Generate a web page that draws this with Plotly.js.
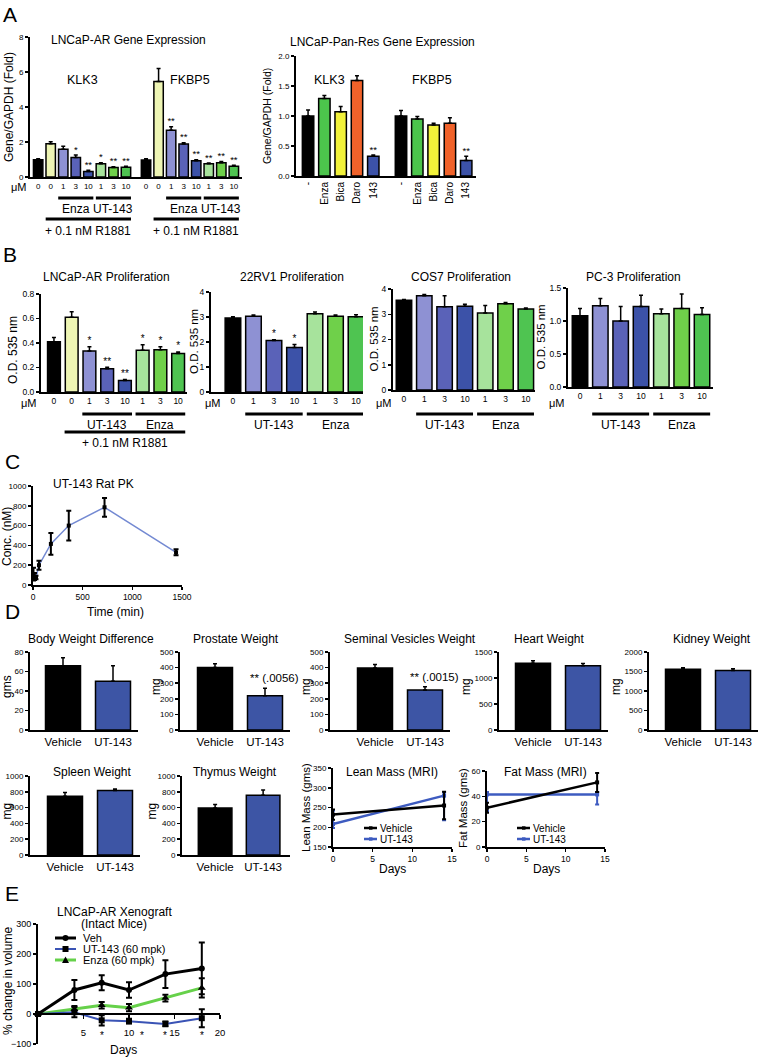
<!DOCTYPE html>
<html><head><meta charset="utf-8">
<script src="https://cdn.plot.ly/plotly-3.0.1.min.js"></script>
<style>html,body{margin:0;padding:0;background:#fff;}#chart{width:768px;height:1058px;}</style>
</head><body><div id="chart"></div>
<script>
// ================= DATA =================
// Panel A (left): LNCaP-AR gene expression
const aDoseLabels = ['0','0','1','3','10','1','3','10'];
const aKLK3      = [0.98, 1.9, 1.58, 1.12, 0.32, 0.75, 0.54, 0.55];
const aKLK3Err   = [0.06, 0.12, 0.18, 0.13, 0.06, 0.06, 0.04, 0.06];
const aKLK3Sig   = ['','','','*','**','*','**','**'];
const aFKBP5     = [0.97, 5.45, 2.67, 1.88, 0.93, 0.75, 0.82, 0.62];
const aFKBP5Err  = [0.07, 0.75, 0.2, 0.07, 0.05, 0.05, 0.06, 0.05];
const aFKBP5Sig  = ['','','**','**','**','**','**','**'];
const aColors    = ['#000000','#eef5b4','#8e91d3','#5a62b8','#3c52a8','#a7e39c','#6fd04a','#4fc451'];
const aGroupNames  = ['Enza','UT-143'];
const aGroupRanges = [[2,4],[5,7]];
const aAllRange    = [1,7];
const aGeneNames   = ['KLK3','FKBP5'];

// Panel A (right): LNCaP-Pan-Res gene expression
const a2Labels    = ['-','Enza','Bica','Daro','143'];
const a2KLK3      = [1.0, 1.29, 1.07, 1.59, 0.33];
const a2KLK3Err   = [0.1, 0.05, 0.09, 0.08, 0.02];
const a2KLK3Sig   = ['','','','','**'];
const a2FKBP5     = [1.0, 0.95, 0.85, 0.88, 0.26];
const a2FKBP5Err  = [0.09, 0.04, 0.03, 0.09, 0.07];
const a2FKBP5Sig  = ['','','','','**'];
const a2Colors    = ['#000000','#4cc54c','#f2f23a','#f0622a','#3c52a8'];

// Panel B: proliferation
const b1Doses  = ['0','0','1','3','10','1','3','10'];
const b1Vals   = [0.41, 0.61, 0.335, 0.19, 0.093, 0.34, 0.345, 0.315];
const b1Err    = [0.035, 0.045, 0.035, 0.012, 0.01, 0.045, 0.025, 0.012];
const b1Sig    = ['','','*','**','**','*','*','*'];
const b1Colors = ['#000000','#eef5b4','#8e91d3','#5a62b8','#3c52a8','#a7e39c','#6fd04a','#4fc451'];
const b1Groups = ['UT-143','Enza'];
const bDoses   = ['0','1','3','10','1','3','10'];
const bColors  = ['#000000','#8e91d3','#5a62b8','#3c52a8','#a7e39c','#6fd04a','#4fc451'];
const bGroups  = ['UT-143','Enza'];
const b2Vals   = [2.96, 3.03, 2.06, 1.78, 3.13, 3.03, 3.01];
const b2Err    = [0.05, 0.05, 0.03, 0.12, 0.07, 0.05, 0.08];
const b2Sig    = ['','','*','*','','',''];
const b3Vals   = [3.55, 3.73, 3.3, 3.32, 3.05, 3.42, 3.21];
const b3Err    = [0.03, 0.05, 0.43, 0.08, 0.3, 0.05, 0.04];
const b4Vals   = [1.08, 1.23, 1.0, 1.22, 1.11, 1.19, 1.1];
const b4Err    = [0.11, 0.11, 0.22, 0.17, 0.07, 0.22, 0.1];

// Panel C: rat PK
const pkTime = [5, 15, 30, 60, 180, 360, 720, 1440];
const pkConc = [110, 85, 75, 200, 415, 600, 785, 330];
const pkErr  = [65, 35, 18, 45, 110, 150, 95, 30];

// Panel D: organ weights
const dCats   = ['Vehicle','UT-143'];
const dColors = ['#000000','#3d55a5'];
const bodyWt  = [66, 50],     bodyWtErr  = [8, 16];
const prostate= [400, 220],   prostateErr= [25, 48];
const seminal = [398, 257],   seminalErr = [22, 20];
const heart   = [1285, 1235], heartErr   = [45, 45];
const kidney  = [1555, 1525], kidneyErr  = [40, 45];
const spleen  = [745, 815],   spleenErr  = [46, 20];
const thymus  = [595, 755],   thymusErr  = [45, 67];
const mriDays = [0, 14];
const leanVeh = [232, 255],   leanVehUp = [13, 35], leanVehDown = [13, 35];
const leanUT  = [208, 280],   leanUTUp  = [34, 8],  leanUTDown  = [10, 62];
const fatVeh  = [31, 51],     fatVehUp  = [4, 7.5], fatVehDown  = [4, 7.5];
const fatUT   = [41.5, 41.5], fatUTUp   = [2, 2],   fatUTDown   = [13, 8];

// Panel E: xenograft
const xenoDays = [0, 4, 7, 10, 14, 18];
const xenoVeh  = [0, 80, 104, 80, 133, 152];
const xenoVehErr = [0, 33, 25, 26, 46, 86];
const xenoUT   = [0, 6, -21, -24, -33, -14];
const xenoUTErr  = [0, 17, 17, 8, 8, 30];
const xenoEnza = [0, 16, 29, 21, 53, 87];
const xenoEnzaErr= [0, 11, 11, 12, 11, 32];
const xenoSigDays = [7, 10, 14, 18];

// ================= BUILD =================
const W = 768, H = 1058;
const FONT = '"Liberation Sans", Arial, Helvetica, sans-serif';
const traces = [], shapes = [], annotations = [];
const layout = {width:W, height:H, margin:{l:0,r:0,t:0,b:0}, paper_bgcolor:'#ffffff',
  plot_bgcolor:'rgba(0,0,0,0)', showlegend:false, font:{family:FONT,color:'#000',size:10}};
let n = 0;
function axes(xPx, yPx, xr, yr, xc, yc){
  n++;
  const s = n===1 ? '' : String(n);
  const common = {showline:true, linecolor:'#000', linewidth:2, showgrid:false, zeroline:false,
    fixedrange:true, tickcolor:'#000', tickwidth:1.5, tickfont:{family:FONT,size:8.5,color:'#000'}};
  layout['xaxis'+s] = Object.assign({}, common, {domain:[xPx[0]/W, xPx[1]/W], anchor:'y'+s, range:xr, ticks:''}, xc||{});
  layout['yaxis'+s] = Object.assign({}, common, {domain:[1-yPx[1]/H, 1-yPx[0]/H], anchor:'x'+s, range:yr, ticks:'outside', ticklen:3}, yc||{});
  return {x:'x'+s, y:'y'+s, yPx, yr};
}
function txt(text, x, y, size, o){
  annotations.push(Object.assign({text, x:x/W, y:1-y/H, xref:'paper', yref:'paper', showarrow:false,
    font:{family:FONT,size,color:'#000'}, xanchor:'center', yanchor:'middle'}, o||{}));
}
function ytitle(text, x, y, size){ txt(text, x, y, size, {textangle:-90}); }
function idx(arr, off){ return arr.map((_, i) => i + (off||0)); }
function bars(ax, pos, vals, errs, colors, width, sig, sigSize){
  traces.push({type:'bar', x:pos, y:vals, width:width, xaxis:ax.x, yaxis:ax.y,
    marker:{color:colors, line:{color:'#000', width:1.5}},
    error_y:{type:'data', symmetric:false, array:errs, arrayminus:errs.map(()=>0), color:'#000', thickness:1.5, width:2},
    hoverinfo:'skip'});
  if(sig){
    traces.push({type:'scatter', mode:'text', x:pos, y:vals.map((v,i)=>v+errs[i]), text:sig,
      textposition:'top center', textfont:{family:FONT,size:sigSize||9,color:'#000'},
      xaxis:ax.x, yaxis:ax.y, cliponaxis:false, hoverinfo:'skip'});
  }
}
function underline(ax, from, to, yPix, w){
  shapes.push({type:'line', xref:ax.x, yref:'paper', x0:from, x1:to, y0:1-yPix/H, y1:1-yPix/H, line:{color:'#000', width:w||3}});
}
function groupLabel(ax, xd, yPix, text, size){
  annotations.push({text, xref:ax.x, yref:'paper', x:xd, y:1-yPix/H, showarrow:false,
    font:{family:FONT,size,color:'#000'}, xanchor:'center', yanchor:'middle'});
}
function mean2(r){ return (r[0]+r[1])/2; }

// ---------- Panel A left ----------
const klkPos = idx(aKLK3, 0);
const fkPos  = idx(aFKBP5, aKLK3.length + 0.6);
const axA1 = axes([30,242],[37,177],[-0.65,16.25],[0,8],
  {tickvals:klkPos.concat(fkPos), ticktext:aDoseLabels.concat(aDoseLabels), tickfont:{family:FONT,size:8,color:'#000'}},
  {dtick:2, tickfont:{family:FONT,size:8,color:'#000'}});
bars(axA1, klkPos, aKLK3, aKLK3Err, aColors, 0.75, aKLK3Sig, 9.5);
bars(axA1, fkPos, aFKBP5, aFKBP5Err, aColors, 0.75, aFKBP5Sig, 9.5);
[klkPos, fkPos].forEach((pos, g) => {
  aGroupRanges.forEach((r, k) => {
    underline(axA1, pos[r[0]]-0.4, pos[r[1]]+0.4, 198, 3);
    groupLabel(axA1, mean2([pos[r[0]], pos[r[1]]]), 209, aGroupNames[k], 12);
  });
  underline(axA1, pos[aAllRange[0]]-0.4, pos[aAllRange[1]]+0.4, 219, 3);
  groupLabel(axA1, mean2([pos[aAllRange[0]], pos[aAllRange[1]]]), 231, '+ 0.1 nM R1881', 12);
  groupLabel(axA1, mean2([pos[0], pos[pos.length-1]]), 80, aGeneNames[g], 12.5);
});
txt('μM', 19, 187, 11);
txt('LNCaP-AR Gene Expression', 128, 40, 12);
ytitle('Gene/GAPDH (Fold)', 9, 107, 12);

// ---------- Panel A right ----------
const k2Pos = idx(a2KLK3, 0);
const f2Pos = idx(a2FKBP5, a2KLK3.length + 0.7);
const axA2 = axes([296,476],[56,176],[-0.74,10.3],[0,2],
  {tickvals:k2Pos.concat(f2Pos), ticktext:a2Labels.concat(a2Labels), tickangle:-90, tickfont:{family:FONT,size:10,color:'#000'}},
  {dtick:0.5, tickformat:'.1f', tickfont:{family:FONT,size:8,color:'#000'}});
bars(axA2, k2Pos, a2KLK3, a2KLK3Err, a2Colors, 0.7, a2KLK3Sig, 9.5);
bars(axA2, f2Pos, a2FKBP5, a2FKBP5Err, a2Colors, 0.7, a2FKBP5Sig, 9.5);
groupLabel(axA2, 1.3, 80, aGeneNames[0], 12.5);
groupLabel(axA2, 7.6, 80, aGeneNames[1], 12.5);
txt('LNCaP-Pan-Res Gene Expression', 382, 42, 12);
ytitle('Gene/GAPDH (Fold)', 267, 116, 10.5);

// ---------- Panel B ----------
const bTick = {family:FONT,size:8.5,color:'#000'};
const b1Pos = idx(b1Vals);
const axB1 = axes([41,187],[294,392],[-0.73,7.5],[0,0.8],
  {tickvals:b1Pos, ticktext:b1Doses, tickfont:bTick}, {dtick:0.2, tickformat:'.1f'});
bars(axB1, b1Pos, b1Vals, b1Err, b1Colors, 0.72, b1Sig, 10);
underline(axB1, 2-0.4, 4+0.4, 414, 3); groupLabel(axB1, 3, 425, b1Groups[0], 12);
underline(axB1, 5-0.4, 7+0.4, 414, 3); groupLabel(axB1, 6, 425, b1Groups[1], 12);
underline(axB1, 1-0.4, 7+0.4, 432, 3); groupLabel(axB1, 4, 443, '+ 0.1 nM R1881', 12);
txt('μM', 29, 403, 11);
txt('LNCaP-AR Proliferation', 106, 277, 12);
ytitle('O.D. 535 nm', 13, 350, 12);

function bPanel(xPx, yPx, xr, yr, vals, errs, sig, ydt, fmt, title, titleX, yTitleX, muX){
  const pos = idx(vals);
  const ax = axes(xPx, yPx, xr, yr, {tickvals:pos, ticktext:bDoses, tickfont:bTick}, {dtick:ydt, tickformat:fmt});
  bars(ax, pos, vals, errs, bColors, 0.76, sig, 10);
  underline(ax, 1-0.4, 3+0.4, 414, 3); groupLabel(ax, 2, 425, bGroups[0], 12);
  underline(ax, 4-0.4, 6+0.4, 414, 3); groupLabel(ax, 5, 425, bGroups[1], 12);
  txt('μM', muX, 403, 11);
  txt(title, titleX, 277, 12);
  ytitle('O.D. 535 nm', yTitleX, (yPx[0]+yPx[1])/2, 11.5);
}
bPanel([211,363],[292,392],[-1.07,6.34],[0,4], b2Vals, b2Err, b2Sig, 1, '', '22RV1 Proliferation', 292, 194, 213);
bPanel([393,535],[289,390],[-0.54,6.45],[0,4], b3Vals, b3Err, null, 1, '', 'COS7 Proliferation', 461, 373, 384);
bPanel([568,713],[288,387],[-0.59,6.54],[0,1.5], b4Vals, b4Err, null, 0.5, '.1f', 'PC-3 Proliferation', 633, 540, 557);

// ---------- Panel C ----------
const axC = axes([33,182],[486,585],[0,1500],[0,1000],
  {ticks:'outside', ticklen:3, dtick:500, tickfont:{family:FONT,size:8.5,color:'#000'}}, {dtick:200, tickfont:{family:FONT,size:8,color:'#000'}});
traces.push({type:'scatter', mode:'lines', x:pkTime, y:pkConc, xaxis:axC.x, yaxis:axC.y,
  line:{color:'#7389d2', width:1.5}, cliponaxis:false, hoverinfo:'skip'});
traces.push({type:'scatter', mode:'markers', x:pkTime, y:pkConc, xaxis:axC.x, yaxis:axC.y,
  marker:{symbol:'square', size:4, color:'#000'},
  error_y:{type:'data', array:pkErr, color:'#000', thickness:2, width:2.5}, cliponaxis:false, hoverinfo:'skip'});
txt('UT-143 Rat PK', 93, 484, 12);
txt('Time (min)', 115, 612, 12);
ytitle('Conc. (nM)', 7, 537, 12);

// ---------- Panel D bars ----------
function dPanel(xPx, yPx, xr, yr, vals, errs, ydt, title, titleX, titleY, yt, ytX){
  const pos = idx(vals);
  const ax = axes(xPx, yPx, xr, yr, {tickvals:pos, ticktext:dCats, tickfont:{family:FONT,size:11.5,color:'#000'}}, {dtick:ydt, tickfont:{family:FONT,size:8,color:'#000'}});
  bars(ax, pos, vals, errs, dColors, 0.7, null);
  txt(title, titleX, titleY, 12);
  ytitle(yt, ytX, (yPx[0]+yPx[1])/2 - 4, 12);
  return ax;
}
dPanel([30,138],[652,730],[-0.66,1.5],[0,80], bodyWt, bodyWtErr, 20, 'Body Weight Difference', 91, 639, 'gms', 7);
const axD2 = dPanel([180,290],[652,730],[-0.7,1.5],[0,500], prostate, prostateErr, 100, 'Prostate Weight', 236, 639, 'mg', 156);
const axD3 = dPanel([330,450],[652,730],[-0.9,1.5],[0,500], seminal, seminalErr, 100, 'Seminal Vesicles Weight', 410, 639, 'mg', 306);
dPanel([499,608],[652,730],[-0.68,1.5],[0,1500], heart, heartErr, 500, 'Heart Weight', 549, 639, 'mg', 466);
dPanel([649,758],[652,730],[-0.68,1.5],[0,2000], kidney, kidneyErr, 500, 'Kidney Weight', 712, 639, 'mg', 616);
dPanel([30,140],[776,855],[-0.7,1.5],[0,1000], spleen, spleenErr, 200, 'Spleen Weight', 92, 772, 'mg', 6);
dPanel([182,290],[776,855],[-0.69,1.56],[0,1000], thymus, thymusErr, 200, 'Thymus Weight', 235, 772, 'mg', 151);
[[axD2, prostate, prostateErr, '** (.0056)'], [axD3, seminal, seminalErr, '** (.0015)']].forEach(([ax, v, e, t]) => {
  annotations.push({text:t, xref:ax.x, yref:ax.y, x:1, y:v[1]+e[1], showarrow:false, xanchor:'center', yanchor:'bottom',
    xshift:9, yshift:2, font:{family:FONT,size:11.5,color:'#000'}});
});

// ---------- Panel D MRI lines ----------
const blueLine = '#3d5bc0';
function mriPanel(xPx, yPx, yr, ydt, veh, vehUp, vehDn, ut, utUp, utDn, title, titleX, yt, ytX, legX){
  const ax = axes(xPx, yPx, [0,15], yr, {ticks:'outside', ticklen:3, dtick:5, tickfont:{family:FONT,size:8.5,color:'#000'}}, {dtick:ydt, tickfont:{family:FONT,size:8,color:'#000'}});
  traces.push({type:'scatter', mode:'lines+markers', x:mriDays, y:ut, xaxis:ax.x, yaxis:ax.y,
    line:{color:blueLine, width:2.5}, marker:{symbol:'square', size:4, color:blueLine},
    error_y:{type:'data', symmetric:false, array:utUp, arrayminus:utDn, color:blueLine, thickness:2, width:2}, cliponaxis:false, hoverinfo:'skip'});
  traces.push({type:'scatter', mode:'lines+markers', x:mriDays, y:veh, xaxis:ax.x, yaxis:ax.y,
    line:{color:'#000', width:2.5}, marker:{symbol:'square', size:4, color:'#000'},
    error_y:{type:'data', symmetric:false, array:vehUp, arrayminus:vehDn, color:'#000', thickness:2, width:2}, cliponaxis:false, hoverinfo:'skip'});
  txt(title, titleX, 772, 12);
  ytitle(yt, ytX, 808, 11.5);
  txt('Days', (xPx[0]+xPx[1])/2, 869, 12);
  [['Vehicle','#000',828],['UT-143',blueLine,839]].forEach(([name,col,yy]) => {
    shapes.push({type:'line', xref:'paper', yref:'paper', x0:legX/W, x1:(legX+13)/W, y0:1-yy/H, y1:1-yy/H, line:{color:col,width:2.5}});
    shapes.push({type:'rect', xref:'paper', yref:'paper', x0:(legX+5)/W, x1:(legX+8.5)/W, y0:1-(yy+1.7)/H, y1:1-(yy-1.7)/H, line:{width:0}, fillcolor:col});
    txt(name, legX+14, yy, 10, {xanchor:'left'});
  });
}
mriPanel([333,452],[768,847],[150,350],50, leanVeh, leanVehUp, leanVehDown, leanUT, leanUTUp, leanUTDown, 'Lean Mass (MRI)', 392, 'Lean Mass (gms)', 306, 364);
mriPanel([487,605],[771,847],[0,60],20, fatVeh, fatVehUp, fatVehDown, fatUT, fatUTUp, fatUTDown, 'Fat Mass (MRI)', 545, 'Fat Mass (gms)', 463, 517);

// ---------- Panel E ----------
const eYPx = [924,1044], eYr = [-100,300];
const eDom = [1-eYPx[1]/H, 1-eYPx[0]/H];
const eZero = eDom[0] + (0 - eYr[0])/(eYr[1]-eYr[0])*(eDom[1]-eDom[0]);
const axE = axes([38,220], eYPx, [0,20], eYr,
  {anchor:'free', position:eZero, ticks:'outside', ticklen:4, tickvals:[5,10,15,20], ticklabelstandoff:6,
   tickfont:{family:FONT,size:9.5,color:'#000'}},
  {dtick:100, tickfont:{family:FONT,size:9,color:'#000'}});
const greenLine = '#66d14a', blueE = '#3a53b5';
traces.push({type:'scatter', mode:'lines+markers', x:xenoDays, y:xenoEnza, xaxis:axE.x, yaxis:axE.y,
  line:{color:greenLine, width:3}, marker:{symbol:'triangle-up', size:7, color:'#000'},
  error_y:{type:'data', array:xenoEnzaErr, color:'#000', thickness:2, width:3}, cliponaxis:false, hoverinfo:'skip'});
traces.push({type:'scatter', mode:'lines+markers', x:xenoDays, y:xenoUT, xaxis:axE.x, yaxis:axE.y,
  line:{color:blueE, width:2}, marker:{symbol:'square', size:6, color:'#000'},
  error_y:{type:'data', array:xenoUTErr, color:'#000', thickness:2, width:3}, cliponaxis:false, hoverinfo:'skip'});
traces.push({type:'scatter', mode:'lines+markers', x:xenoDays, y:xenoVeh, xaxis:axE.x, yaxis:axE.y,
  line:{color:'#000', width:3}, marker:{symbol:'circle', size:6, color:'#000'},
  error_y:{type:'data', array:xenoVehErr, color:'#000', thickness:2, width:3}, cliponaxis:false, hoverinfo:'skip'});
xenoSigDays.forEach(d => {
  annotations.push({text:'*', xref:axE.x, yref:'paper', x:d, y:1-1035/H, showarrow:false, xanchor:'center', yanchor:'middle',
    xshift:(d===10?13:0), font:{family:FONT,size:10,color:'#000'}});
});
txt('LNCaP-AR Xenograft', 114, 912, 12);
txt('(Intact Mice)', 114, 924, 12);
txt('Days', 123, 1050, 12);
ytitle('% change in volume', 8, 981, 12);
// legend
const eLeg = [['Veh','#000','circle',938,3],['UT-143 (60 mpk)',blueE,'square',949,2],['Enza (60 mpk)',greenLine,'triangle',960,3]];
eLeg.forEach(([name,col,sym,yy,w]) => {
  shapes.push({type:'line', xref:'paper', yref:'paper', x0:55/W, x1:76/W, y0:1-yy/H, y1:1-yy/H, line:{color:col,width:w}});
  const cx = 65.5, r = 3;
  if(sym==='circle') shapes.push({type:'circle', xref:'paper', yref:'paper', x0:(cx-r)/W, x1:(cx+r)/W, y0:1-(yy+r)/H, y1:1-(yy-r)/H, fillcolor:'#000', line:{width:0}});
  if(sym==='square') shapes.push({type:'rect', xref:'paper', yref:'paper', x0:(cx-r)/W, x1:(cx+r)/W, y0:1-(yy+r)/H, y1:1-(yy-r)/H, fillcolor:'#000', line:{width:0}});
  if(sym==='triangle') shapes.push({type:'path', xref:'paper', yref:'paper',
    path:'M '+((cx-3.5)/W)+','+(1-(yy+3)/H)+' L '+((cx+3.5)/W)+','+(1-(yy+3)/H)+' L '+(cx/W)+','+(1-(yy-3.5)/H)+' Z', fillcolor:'#000', line:{width:0}});
  txt(name, 81, yy, 11, {xanchor:'left'});
});

// ---------- Panel letters ----------
txt('A', 10, 14, 21); txt('B', 10, 255, 21); txt('C', 12, 461, 21); txt('D', 12, 611, 21); txt('E', 12, 893, 21);

layout.shapes = shapes;
layout.annotations = annotations;
Plotly.newPlot('chart', traces, layout, {staticPlot:true, displayModeBar:false});
</script></body></html>
